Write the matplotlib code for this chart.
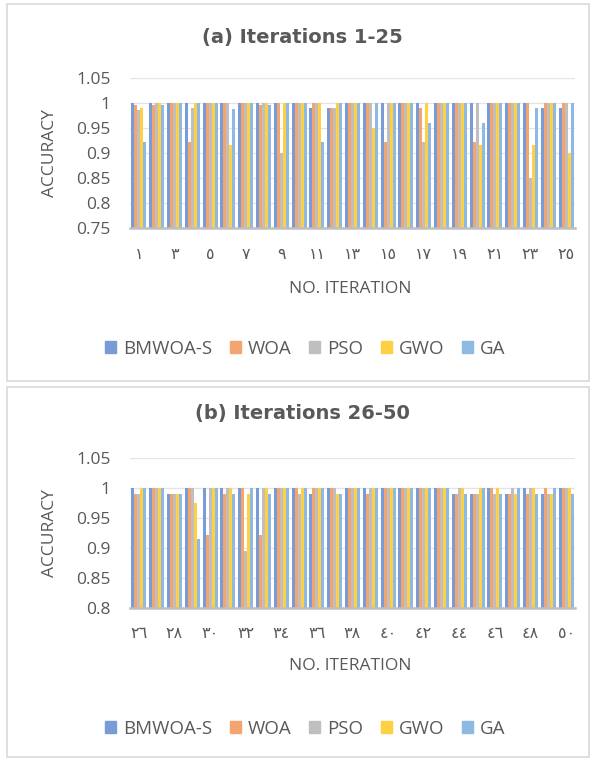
import numpy as np
import matplotlib
matplotlib.use("Agg")
import matplotlib.pyplot as plt
from matplotlib.patches import Rectangle, Patch

# Series names and colours (Excel theme look)
series = ['BMWOA-S', 'WOA', 'PSO', 'GWO', 'GA']
colors = ['#7A9CD6', '#F4A46F', '#BFBFBF', '#FFD043', '#8DB9E2']

# (a) iterations 1-25
iters_a = list(range(1, 26))
bmwoa_a = [1, 1, 1, 1, 1, 1, 1, 1, 1, 1, 0.99, 0.99, 1, 1, 1, 1, 1, 1, 1, 1, 1, 1, 1, 0.99, 0.99]
woa_a = [0.997, 0.997, 1, 0.922, 1, 1, 1, 0.997, 1, 1, 1, 0.99, 1, 1, 0.923, 1, 0.99, 1, 1, 0.923, 1, 1, 1, 1, 1]
pso_a = [0.987, 1, 1, 0.99, 1, 1, 1, 1, 0.9, 1, 1, 0.99, 1, 1, 1, 1, 0.923, 1, 1, 1, 1, 1, 0.85, 1, 1]
gwo_a = [0.99, 1, 1, 1, 1, 0.917, 1, 1, 1, 1, 1, 1, 1, 0.95, 1, 1, 1, 1, 1, 0.917, 1, 1, 0.917, 1, 0.9]
ga_a = [0.922, 0.997, 1, 1, 1, 0.989, 1, 0.997, 1, 1, 0.923, 1, 1, 1, 1, 1, 0.96, 1, 1, 0.96, 1, 1, 0.99, 1, 1]

# (b) iterations 26-50
iters_b = list(range(26, 51))
bmwoa_b = [1, 1, 0.99, 1, 1, 1, 1, 1, 1, 1, 0.99, 1, 1, 1, 1, 1, 1, 1, 0.99, 0.99, 1, 0.99, 1, 0.99, 1]
woa_b = [0.99, 1, 0.99, 1, 0.922, 0.99, 1, 0.922, 1, 1, 1, 1, 1, 0.99, 1, 1, 1, 1, 0.99, 0.99, 1, 0.99, 0.99, 1, 1]
pso_b = [0.99, 1, 0.99, 1, 1, 1, 0.896, 1, 1, 0.99, 1, 1, 1, 1, 1, 1, 1, 1, 1, 0.99, 0.99, 1, 1, 0.99, 1]
gwo_b = [1, 1, 0.99, 0.975, 1, 1, 0.99, 1, 1, 1, 1, 0.99, 1, 1, 1, 1, 1, 1, 1, 1, 1, 0.99, 1, 0.99, 1]
ga_b = [1, 1, 0.99, 0.915, 1, 0.99, 1, 0.99, 1, 1, 1, 0.99, 1, 1, 1, 1, 1, 1, 0.99, 1, 0.99, 1, 0.99, 1, 0.99]

yticks_a = [0.75, 0.8, 0.85, 0.9, 0.95, 1, 1.05]
yticks_b = [0.8, 0.85, 0.9, 0.95, 1, 1.05]

ARABIC = str.maketrans('0123456789', '٠١٢٣٤٥٦٧٨٩')
TXT = '#595959'
W, H = 590, 760

fig = plt.figure(figsize=(W / 100, H / 100), dpi=100)

# chart area borders
for y0, y1 in [(4, 381), (387, 757)]:
    fig.patches.append(Rectangle((7 / W, 1 - y1 / H), (W - 8) / W, (y1 - y0) / H,
                                 transform=fig.transFigure, fill=False,
                                 edgecolor='#D9D9D9', linewidth=1.2))


def fmt(v):
    return ('%.2f' % v).rstrip('0').rstrip('.')


def panel(top_px, bottom_px, title, title_y, iters, data, yticks, xtl_y, xlab_y, leg_y):
    ax = fig.add_axes([130 / W, 1 - bottom_px / H, 445 / W, (bottom_px - top_px) / H])
    x = np.arange(len(iters))
    bw = 0.17
    for i, (name, vals) in enumerate(zip(series, data)):
        ax.bar(x + (i - 2) * bw, vals, width=bw, color=colors[i], label=name, zorder=2)
    ax.set_xlim(-0.5, len(iters) - 0.5)
    ax.set_ylim(yticks[0], yticks[-1])
    ax.set_yticks(yticks)
    ax.set_yticklabels([fmt(v) for v in yticks], fontsize=12.5, color=TXT, family=['Open Sans', 'DejaVu Sans'])
    ax.set_xticks(x[::2])
    ax.set_xticklabels([str(n).translate(ARABIC) for n in iters[::2]], fontsize=11.5, color=TXT,
                       family=['DejaVu Sans'])
    ax.tick_params(axis='y', length=0, pad=14)
    ax.tick_params(axis='x', length=0, pad=(xtl_y - bottom_px) * 0.72 - 6)
    ax.grid(axis='y', color='#E4E4E4', linewidth=0.9, zorder=0)
    for s in ['top', 'right', 'left']:
        ax.spines[s].set_visible(False)
    ax.spines['bottom'].set_color('#BFBFBF')
    ax.spines['bottom'].set_linewidth(1.8)
    ax.spines['bottom'].set_zorder(3)
    fig.text(302 / W, 1 - title_y / H, title, ha='center', va='center', fontsize=14,
             fontweight='bold', color=TXT, family='DejaVu Sans')
    fig.text(350 / W, 1 - xlab_y / H, 'NO. ITERATION', ha='center', va='center', fontsize=12.5,
             color=TXT, family='Open Sans')
    fig.text(50 / W, 1 - (top_px + bottom_px) / 2 / H, 'ACCURACY', ha='center', va='center',
             rotation=90, fontsize=12.5, color=TXT, family='Open Sans')
    handles = [Patch(color=c, label=s) for s, c in zip(series, colors)]
    fig.legend(handles=handles, loc='center', bbox_to_anchor=(305 / W, 1 - leg_y / H), ncol=5,
               frameon=False, handlelength=0.6, handleheight=0.6, handletextpad=0.35,
               columnspacing=0.95, prop={'family': 'Open Sans', 'size': 13.5}, labelcolor=TXT)
    return ax


panel(78.4, 227.7, '(a) Iterations 1-25', 38, iters_a,
      [bmwoa_a, woa_a, pso_a, gwo_a, ga_a], yticks_a, 255, 289, 349)
panel(458.3, 608.3, '(b) Iterations 26-50', 413, iters_b,
      [bmwoa_b, woa_b, pso_b, gwo_b, ga_b], yticks_b, 634, 666, 729)

fig.savefig('out.png', dpi=100)
